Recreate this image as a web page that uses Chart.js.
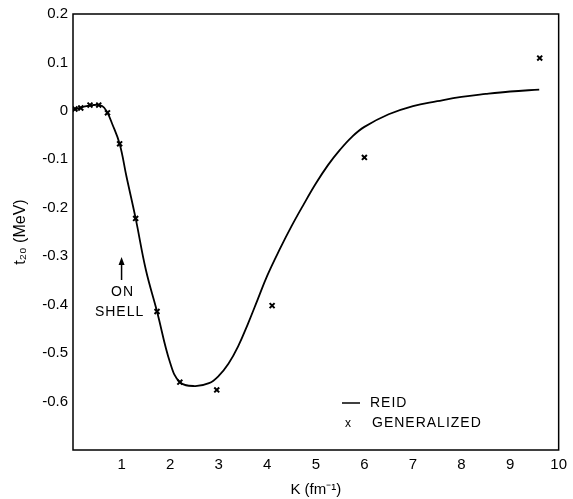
<!DOCTYPE html>
<html>
<head>
<meta charset="utf-8">
<script src="https://cdn.jsdelivr.net/npm/chart.js@4.4.0/dist/chart.umd.min.js"></script>
<style>
  html, body { margin: 0; padding: 0; background: #fff; }
  #wrap { width: 573px; height: 499px; }
</style>
</head>
<body>
<div id="wrap"><canvas id="chart" width="573" height="499"></canvas></div>
<script>
// Reid curve (K in fm^-1, t20 in MeV)
const reidK = [0, 0.2, 0.4, 0.6, 0.71, 0.8, 0.96, 1.1, 1.29, 1.5, 1.73, 2.0, 2.2, 2.5, 2.8, 3.0, 3.2, 3.4, 3.6, 3.8, 4.0, 4.25, 4.5, 4.75, 5.0, 5.25, 5.5, 5.75, 6.0, 6.5, 7.0, 7.5, 8.0, 8.5, 9.0, 9.6];
const reidT = [0.002, 0.008, 0.012, 0.01, -0.004, -0.025, -0.068, -0.135, -0.222, -0.328, -0.414, -0.52, -0.56, -0.568, -0.562, -0.547, -0.522, -0.486, -0.44, -0.39, -0.34, -0.287, -0.238, -0.193, -0.15, -0.112, -0.08, -0.053, -0.033, -0.007, 0.01, 0.02, 0.029, 0.035, 0.04, 0.044];

// generalized points (the x marks)
const genK = [0.04, 0.16, 0.35, 0.53, 0.71, 0.96, 1.29, 1.73, 2.2, 2.96, 4.1, 6.0, 9.61];
const genT = [0.004, 0.006, 0.012, 0.012, -0.004, -0.068, -0.222, -0.414, -0.56, -0.576, -0.402, -0.096, 0.109];

const xTicks = [1, 2, 3, 4, 5, 6, 7, 8, 9, 10];
const yTicks = [0.2, 0.1, 0, -0.1, -0.2, -0.3, -0.4, -0.5, -0.6];

const FONT = 'Liberation Sans, Arial, sans-serif';

// box round the plot, the legend and the "on shell" note
const extras = {
  id: 'extras',
  afterDraw(chart) {
    const ctx = chart.ctx;
    const a = chart.chartArea;
    const xs = chart.scales.x;
    ctx.save();
    ctx.strokeStyle = '#000';
    ctx.lineWidth = 1.5;
    ctx.strokeRect(a.left, a.top, a.right - a.left, a.bottom - a.top);

    ctx.fillStyle = '#000';
    ctx.font = '14px ' + FONT;
    ctx.textBaseline = 'middle';
    ctx.textAlign = 'left';
    if ('letterSpacing' in ctx) ctx.letterSpacing = '1px';

    // legend
    ctx.beginPath();
    ctx.moveTo(342, 403);
    ctx.lineTo(360, 403);
    ctx.stroke();
    ctx.fillText('REID', 370, 403);
    ctx.font = '12px ' + FONT;
    ctx.fillText('x', 345, 424);
    ctx.font = '14px ' + FONT;
    ctx.fillText('GENERALIZED', 372, 423);

    // on shell arrow at K = 1
    const ax = xs.getPixelForValue(1);
    ctx.beginPath();
    ctx.moveTo(ax, 280);
    ctx.lineTo(ax, 262);
    ctx.stroke();
    ctx.beginPath();
    ctx.moveTo(ax, 257);
    ctx.lineTo(ax - 3, 265);
    ctx.lineTo(ax + 3, 265);
    ctx.closePath();
    ctx.fill();
    ctx.textAlign = 'center';
    ctx.fillText('ON', ax + 1, 292);
    ctx.fillText('SHELL', ax - 2, 312);
    ctx.restore();
  }
};

new Chart(document.getElementById('chart').getContext('2d'), {
  type: 'scatter',
  data: {
    datasets: [
      {
        label: 'REID',
        data: reidK.map((k, i) => ({ x: k, y: reidT[i] })),
        showLine: true,
        borderColor: '#000',
        borderWidth: 1.8,
        pointRadius: 0,
        tension: 0.4
      },
      {
        label: 'GENERALIZED',
        data: genK.map((k, i) => ({ x: k, y: genT[i] })),
        pointStyle: 'crossRot',
        pointRadius: 3.5,
        borderColor: '#000',
        borderWidth: 2,
        backgroundColor: '#000'
      }
    ]
  },
  options: {
    responsive: false,
    animation: false,
    layout: { padding: { top: 12, right: 10, left: 0, bottom: 0 } },
    plugins: {
      legend: { display: false },
      tooltip: { enabled: false }
    },
    scales: {
      x: {
        type: 'linear',
        min: 0,
        max: 10,
        afterFit: s => { s.height = 49; },
        afterBuildTicks: s => { s.ticks = xTicks.map(v => ({ value: v })); },
        grid: { display: false, drawTicks: false },
        border: { display: false },
        ticks: { color: '#000', padding: 6, font: { family: FONT, size: 15 } },
        title: {
          display: true,
          text: 'K (fm\u207B\u00B9)',
          color: '#000',
          padding: { top: 0, bottom: 0 },
          font: { family: FONT, size: 15 }
        }
      },
      y: {
        min: -0.7,
        max: 0.2,
        afterFit: s => { s.width = 73; },
        afterBuildTicks: s => { s.ticks = yTicks.map(v => ({ value: v })); },
        grid: { display: false, drawTicks: false },
        border: { display: false },
        ticks: {
          color: '#000',
          padding: 5,
          font: { family: FONT, size: 15 },
          callback: v => String(Math.round(v * 10) / 10)
        },
        title: {
          display: true,
          text: 't\u2082\u2080 (MeV)',
          color: '#000',
          padding: { top: 11, bottom: 0 },
          font: { family: FONT, size: 16 }
        }
      }
    }
  },
  plugins: [extras]
});
</script>
</body>
</html>
